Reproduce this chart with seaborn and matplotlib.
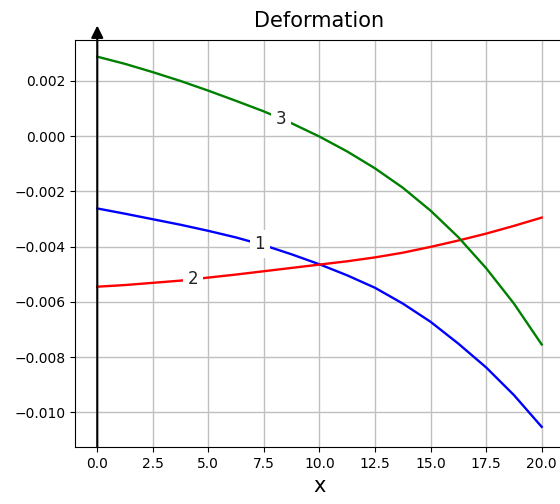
import matplotlib
matplotlib.use("Agg")
import matplotlib.pyplot as plt
import seaborn as sns
import numpy as np
import pandas as pd

# values (x step 1.25)
x = [0.0, 1.25, 2.5, 3.75, 5.0, 6.25, 7.5, 8.75, 10.0,
     11.25, 12.5, 13.75, 15.0, 16.25, 17.5, 18.75, 20.0]
w1 = [-0.00262, -0.00281, -0.00301, -0.00321, -0.00343, -0.00367, -0.00395, -0.00428, -0.00464,
      -0.00504, -0.00549, -0.00606, -0.00672, -0.00751, -0.00837, -0.00937, -0.01052]
w2 = [-0.00545, -0.00539, -0.00531, -0.00523, -0.00512, -0.00501, -0.00489, -0.00477, -0.00465,
      -0.00453, -0.00439, -0.00422, -0.00401, -0.00378, -0.00353, -0.00325, -0.00295]
w3 = [0.00287, 0.00261, 0.00231, 0.00199, 0.00164, 0.00127, 0.00089, 0.00046, -0.00002,
      -0.00056, -0.00117, -0.00187, -0.00270, -0.00366, -0.00478, -0.00606, -0.00754]
names = ["1", "2", "3"]
colors = ["blue", "red", "green"]
label_x = [7.32, 4.32, 8.28]

df = pd.DataFrame({"x": x * 3, "w": w1 + w2 + w3,
                   "curve": [n for n in names for _ in x]})

fig = plt.figure(figsize=(5.6, 5.04), dpi=100)
ax = fig.add_axes([0.134, 0.113, 0.873, 0.808])
sns.lineplot(data=df, x="x", y="w", hue="curve", palette=colors,
             linewidth=1.7, legend=False, ax=ax)
ax.grid(True, color="#c0c0c0", linewidth=1)
ax.set_axisbelow(True)

# inline curve labels
for ys, name, lx in zip([w1, w2, w3], names, label_x):
    ly = np.interp(lx, x, ys)
    ax.text(lx, ly, name, fontsize=12, ha="center", va="center", color="#222222",
            bbox=dict(facecolor="white", edgecolor="none", pad=3.5))

# vertical axis arrow at x = 0
ax.annotate("", xy=(0, 1.035), xycoords=("data", "axes fraction"),
            xytext=(0, 0), textcoords=("data", "axes fraction"),
            arrowprops=dict(arrowstyle="-|>", color="black", lw=1.5,
                            mutation_scale=18, shrinkA=0, shrinkB=0),
            annotation_clip=False)

ax.set_xlim(-1, 21)
ax.set_ylim(-0.01125, 0.00348)
ax.set_xticks([0, 2.5, 5, 7.5, 10, 12.5, 15, 17.5, 20])
ax.set_yticks([0.002, 0.0, -0.002, -0.004, -0.006, -0.008, -0.010])
ax.set_title("Deformation", fontsize=15, pad=9)
ax.set_xlabel("x", fontsize=15)
ax.set_ylabel("")

fig.savefig("out.png", dpi=100)
